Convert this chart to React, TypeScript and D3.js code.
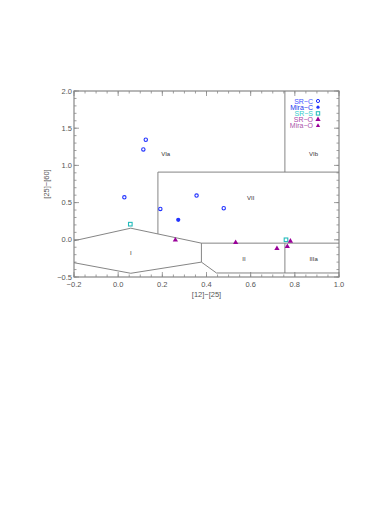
import React from "react";
import * as d3 from "d3";

// [12]-[25] and [25]-[60] colours
const srCX = [0.125, 0.114, 0.028, 0.191, 0.355, 0.478];
const srCY = [1.345, 1.215, 0.571, 0.415, 0.594, 0.424];
const miraCX = [0.272];
const miraCY = [0.268];
const srSX = [0.055, 0.76];
const srSY = [0.21, 0.0];
const srOX = [0.259, 0.532, 0.719, 0.78, 0.766];
const srOY = [-0.004, -0.036, -0.116, -0.018, -0.089];

// region boundaries (polylines in data units)
const boundaries: [number, number][][] = [
  [[0.755, 2.0], [0.755, 0.91]],
  [[0.18, 0.91], [1.0, 0.91]],
  [[0.18, 0.91], [0.18, 0.08]],
  [[-0.2, -0.013], [0.057, 0.156], [0.377, -0.045], [1.0, -0.045]],
  [[-0.2, -0.308], [0.057, -0.45], [0.377, -0.3], [0.445, -0.446], [1.0, -0.446]],
  [[0.377, -0.045], [0.377, -0.3]],
  [[0.755, -0.045], [0.755, -0.446]],
];

const regionNames = ["VIa", "VIb", "VII", "I", "II", "IIIa"];
const regionX = [0.215, 0.885, 0.6, 0.057, 0.57, 0.885];
const regionY = [1.13, 1.13, 0.53, -0.2, -0.29, -0.29];

const legendNames = ["SR\u2212C", "Mira\u2212C", "SR\u2212S", "SR\u2212O", "Mira\u2212O"];
const legendColors = ["#4455ff", "#2233ee", "#33cccc", "#aa44aa", "#aa55aa"];

const xTicks = [-0.2, 0.0, 0.2, 0.4, 0.6, 0.8, 1.0];
const yTicks = [-0.5, 0.0, 0.5, 1.0, 1.5, 2.0];

const W = 374, H = 529;
const left = 74, right = 339, top = 91, bottom = 277;

const blue = "#2233ff";
const cyan = "#22bbbb";
const purple = "#990099";
const axisGray = "#888";
const lineGray = "#777";
const textGray = "#555";
const font = "Liberation Sans, Arial, sans-serif";

export default function App() {
  const x = d3.scaleLinear().domain([-0.2, 1.0]).range([left, right]);
  const y = d3.scaleLinear().domain([-0.5, 2.0]).range([bottom, top]);
  const line = d3.line<[number, number]>().x(d => x(d[0])).y(d => y(d[1]));
  const tri = d3.symbol().type(d3.symbolTriangle).size(12);
  const triSmall = d3.symbol().type(d3.symbolTriangle).size(8);

  const xMinor = d3.range(-0.2, 1.0001, 0.05);
  const yMinor = d3.range(-0.5, 2.0001, 0.1);

  return (
    <svg width={W} height={H} style={{ position: "absolute", left: 0, top: 0 }}>
      <rect width={W} height={H} fill="white" />
      {/* ticks on all four sides, pointing inwards */}
      {xMinor.map((t, i) => (
        <g key={"xm" + i} stroke={axisGray} strokeWidth={0.8}>
          <line x1={x(t)} x2={x(t)} y1={bottom} y2={bottom - 2.5} />
          <line x1={x(t)} x2={x(t)} y1={top} y2={top + 2.5} />
        </g>
      ))}
      {xTicks.map((t, i) => (
        <g key={"xt" + i} stroke={axisGray} strokeWidth={0.8}>
          <line x1={x(t)} x2={x(t)} y1={bottom} y2={bottom - 5} />
          <line x1={x(t)} x2={x(t)} y1={top} y2={top + 5} />
        </g>
      ))}
      {yMinor.map((t, i) => (
        <g key={"ym" + i} stroke={axisGray} strokeWidth={0.8}>
          <line x1={left} x2={left + 2.5} y1={y(t)} y2={y(t)} />
          <line x1={right} x2={right - 2.5} y1={y(t)} y2={y(t)} />
        </g>
      ))}
      {yTicks.map((t, i) => (
        <g key={"yt" + i} stroke={axisGray} strokeWidth={0.8}>
          <line x1={left} x2={left + 5} y1={y(t)} y2={y(t)} />
          <line x1={right} x2={right - 5} y1={y(t)} y2={y(t)} />
        </g>
      ))}
      <rect x={left} y={top} width={right - left} height={bottom - top} fill="none" stroke={axisGray} strokeWidth={1.2} />

      {xTicks.map((t, i) => (
        <text key={"xl" + i} x={x(t)} y={bottom + 10} textAnchor="middle" fontSize={7.5} fontFamily={font} fill={textGray}>
          {d3.format(".1f")(t).replace("-", "\u2212")}
        </text>
      ))}
      {yTicks.map((t, i) => (
        <text key={"yl" + i} x={left - 2} y={y(t) + 2.5} textAnchor="end" fontSize={7.5} fontFamily={font} fill={textGray}>
          {d3.format(".1f")(t).replace("-", "\u2212")}
        </text>
      ))}
      <text x={(left + right) / 2} y={bottom + 20} textAnchor="middle" fontSize={7.5} fontFamily={font} fill={textGray}>
        [12]−[25]
      </text>
      <text transform={`translate(${left - 25},${(top + bottom) / 2}) rotate(-90)`} textAnchor="middle" fontSize={7.5} fontFamily={font} fill={textGray}>
        [25]−[60]
      </text>

      {boundaries.map((b, i) => (
        <path key={"b" + i} d={line(b) || ""} fill="none" stroke={lineGray} strokeWidth={0.9} />
      ))}
      {regionNames.map((n, i) => (
        <text key={"r" + i} x={x(regionX[i])} y={y(regionY[i])} textAnchor="middle" fontSize={6} fontFamily={font} fill="#333">
          {n}
        </text>
      ))}

      {srCX.map((v, i) => (
        <circle key={"sc" + i} cx={x(v)} cy={y(srCY[i])} r={1.7} fill="none" stroke={blue} strokeWidth={1.1} />
      ))}
      {miraCX.map((v, i) => (
        <circle key={"mc" + i} cx={x(v)} cy={y(miraCY[i])} r={2.1} fill={blue} />
      ))}
      {srSX.map((v, i) => (
        <rect key={"ss" + i} x={x(v) - 1.8} y={y(srSY[i]) - 1.8} width={3.6} height={3.6} fill="none" stroke={cyan} strokeWidth={1.1} />
      ))}
      {srOX.map((v, i) => (
        <path key={"so" + i} d={tri() || ""} transform={`translate(${x(v)},${y(srOY[i])})`} fill={purple} />
      ))}

      {legendNames.map((n, i) => {
        const ly = 101 + i * 6.2;
        const sx = 318;
        return (
          <g key={"lg" + i}>
            <text x={313} y={ly + 2.5} textAnchor="end" fontSize={7} fontFamily={font} fill={legendColors[i]}>
              {n}
            </text>
            {i === 0 && <circle cx={sx} cy={ly} r={1.6} fill="none" stroke={blue} strokeWidth={1} />}
            {i === 1 && <circle cx={sx} cy={ly} r={1.6} fill={blue} />}
            {i === 2 && <rect x={sx - 1.7} y={ly - 1.7} width={3.4} height={3.4} fill="none" stroke={cyan} strokeWidth={1} />}
            {i === 3 && <path d={tri() || ""} transform={`translate(${sx},${ly})`} fill={purple} />}
            {i === 4 && <path d={triSmall() || ""} transform={`translate(${sx},${ly})`} fill={purple} />}
          </g>
        );
      })}
    </svg>
  );
}
